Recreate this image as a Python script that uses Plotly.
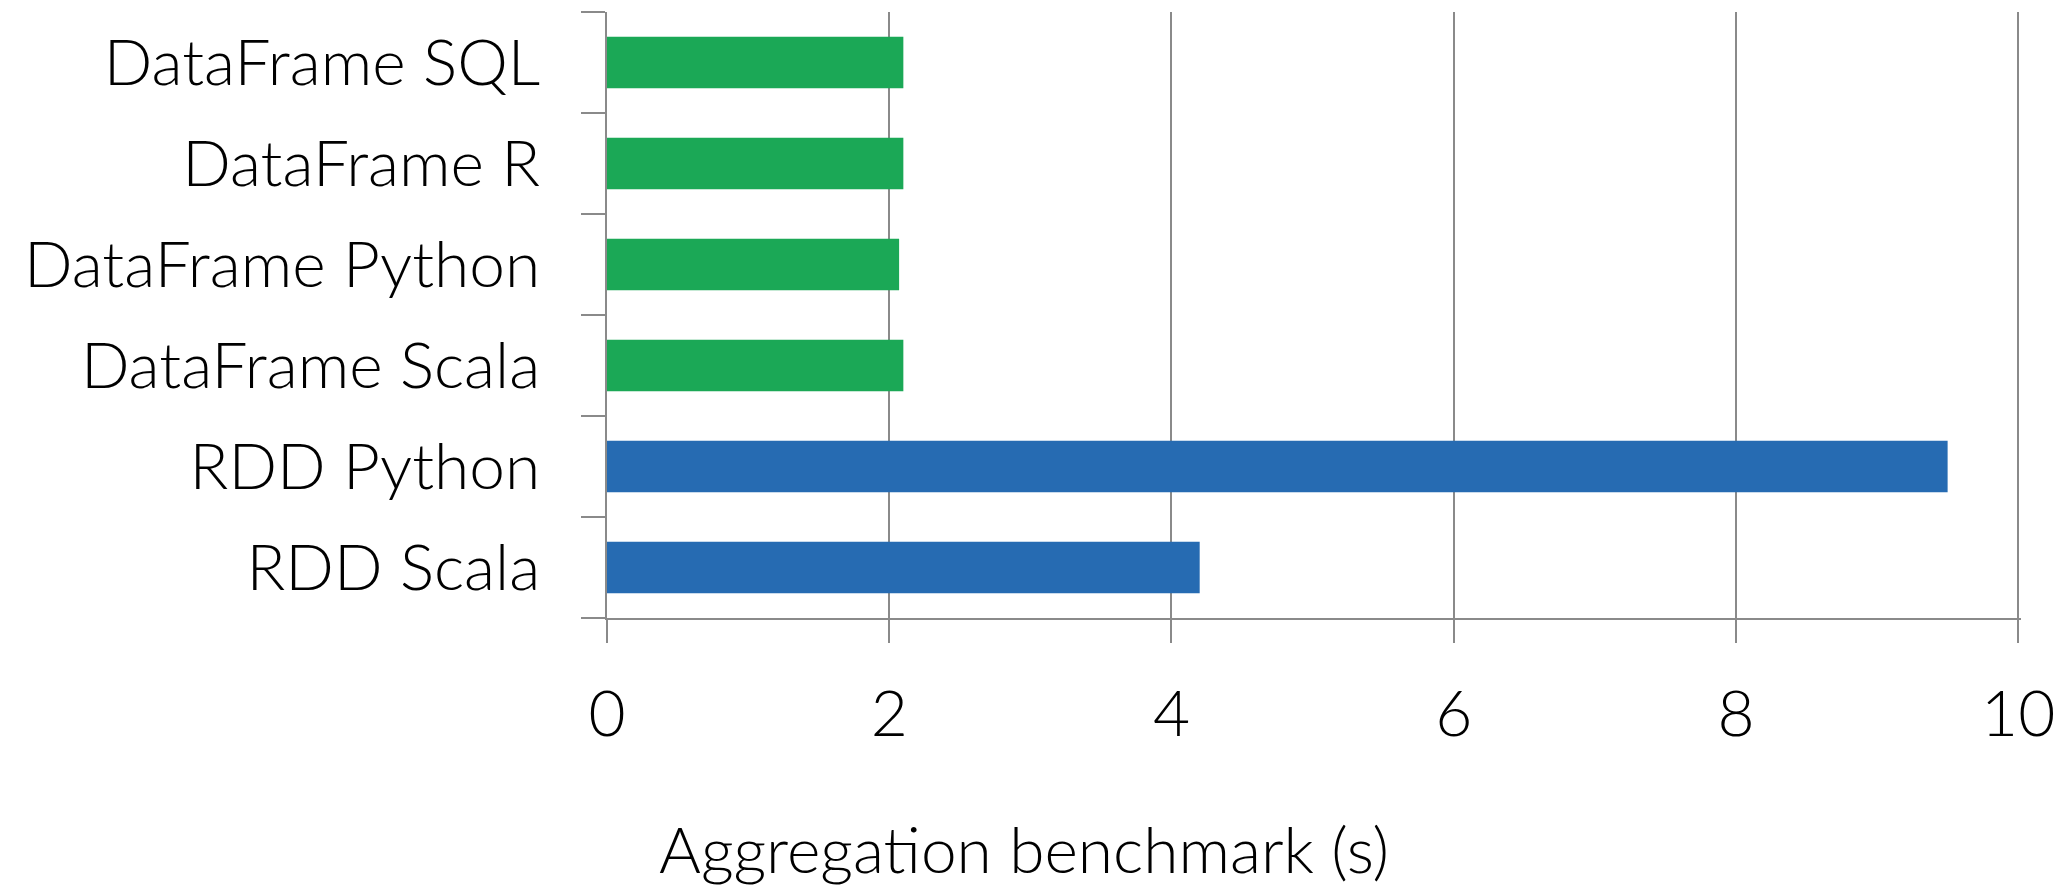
import plotly.graph_objects as go

# Benchmark categories, bottom to top
categories = [
    "RDD Scala",
    "RDD Python",
    "DataFrame Scala",
    "DataFrame Python",
    "DataFrame R",
    "DataFrame SQL",
]
runtimes_s = [4.2, 9.5, 2.1, 2.07, 2.1, 2.1]
api_family = ["RDD", "RDD", "DataFrame", "DataFrame", "DataFrame", "DataFrame"]

x_ticks = [0, 2, 4, 6, 8, 10]
x_title = "Aggregation benchmark (s)"

family_colors = {"RDD": "#266BB2", "DataFrame": "#1BA856"}
grid_gray = "#8a8a8a"
font_family = "Lato, 'Source Sans Pro', 'Noto Sans', sans-serif"
label_font = dict(family=font_family, size=64, color="black", weight=300)

fig = go.Figure(
    go.Bar(
        x=runtimes_s,
        y=categories,
        orientation="h",
        marker=dict(color=[family_colors[f] for f in api_family], line=dict(width=0)),
        hoverinfo="x+y",
    )
)

fig.update_layout(
    width=2054,
    height=886,
    margin=dict(l=607, r=33, t=12, b=268),
    paper_bgcolor="white",
    plot_bgcolor="white",
    bargap=0.49,
    showlegend=False,
    font=label_font,
)

# slightly past 10 so plotly keeps the last gridline (it drops lines at the very edge)
fig.update_xaxes(
    range=[0, 10.02],
    tickvals=x_ticks,
    ticktext=[str(t) for t in x_ticks],
    automargin=False,
    ticklabeloverflow="allow",
    showgrid=True,
    gridcolor=grid_gray,
    gridwidth=2,
    zeroline=False,
    showline=True,
    linecolor=grid_gray,
    linewidth=2,
    ticks="outside",
    ticklen=23,
    tickwidth=2,
    tickcolor=grid_gray,
    ticklabelstandoff=16,
    tickfont=label_font,
)

fig.update_yaxes(
    type="category",
    categoryorder="array",
    categoryarray=categories,
    range=[-0.5, len(categories) - 0.5],
    automargin=False,
    showgrid=False,
    zeroline=False,
    showline=True,
    linecolor=grid_gray,
    linewidth=2,
    ticks="outside",
    tickson="boundaries",
    ticklen=24,
    tickwidth=2,
    tickcolor=grid_gray,
    ticklabelstandoff=52,
    tickfont=label_font,
)

fig.add_annotation(
    text=x_title,
    xref="paper",
    yref="paper",
    x=0.295,
    y=-0.38,
    xanchor="center",
    yanchor="middle",
    showarrow=False,
    font=label_font,
)

fig.write_html("out.html")
